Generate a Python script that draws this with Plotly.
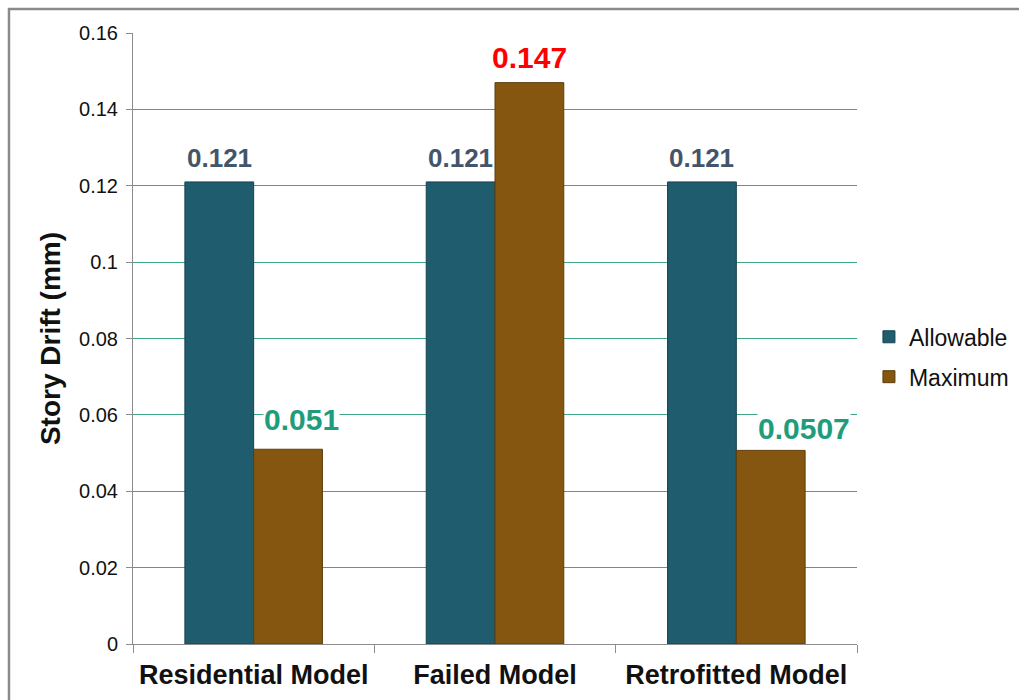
import plotly.graph_objects as go

# Story drift comparison data
categories = ["Residential Model", "Failed Model", "Retrofitted Model"]
allowable = [0.121, 0.121, 0.121]
maximum = [0.051, 0.147, 0.0507]
allowable_labels = ["0.121", "0.121", "0.121"]
maximum_labels = ["0.051", "0.147", "0.0507"]
allowable_label_color = "#44546A"
maximum_label_colors = ["#1E9C7C", "#FF0000", "#1E9C7C"]
y_ticks = [0, 0.02, 0.04, 0.06, 0.08, 0.1, 0.12, 0.14, 0.16]
y_tick_text = ["0", "0.02", "0.04", "0.06", "0.08", "0.1", "0.12", "0.14", "0.16"]

TEAL = "#1F5C6E"
BROWN = "#84560F"
FONT = "Liberation Sans, Arial"
BARGAP = 0.43

# Label placement tweaks (pixel nudges) for the "Maximum" value labels
max_label_style = [
    dict(xshift=13, yshift=12),
    dict(xshift=0, yshift=8),
    dict(xshift=33, yshift=4),
]

fig = go.Figure()

fig.add_trace(go.Bar(
    name="Allowable",
    x=categories,
    y=allowable,
    marker=dict(color=TEAL, line=dict(color="#16434F", width=1)),
    legendgroup="a",
))

fig.add_trace(go.Bar(
    name="Maximum",
    x=categories,
    y=maximum,
    marker=dict(color=BROWN, line=dict(color="#5E3D0A", width=1)),
    legendgroup="b",
))

# Value labels above each bar, positioned at the bar centres of each group
bar_w = (1 - BARGAP) / 2
annotations = []
for i in range(len(categories)):
    annotations.append(dict(
        x=i - bar_w / 2, y=allowable[i], xref="x", yref="y",
        text=allowable_labels[i], showarrow=False,
        yanchor="bottom", yshift=7,
        font=dict(family=FONT, size=26, color=allowable_label_color, weight="bold"),
    ))
    annotations.append(dict(
        x=i + bar_w / 2, y=maximum[i], xref="x", yref="y",
        text=maximum_labels[i], showarrow=False,
        yanchor="bottom", bgcolor="white", borderpad=0,
        font=dict(family=FONT, size=30, color=maximum_label_colors[i], weight="bold"),
        **max_label_style[i],
    ))

fig.update_layout(
    width=1019,
    height=700,
    margin=dict(l=133, r=162, t=33, b=56, autoexpand=False),
    paper_bgcolor="white",
    plot_bgcolor="white",
    font=dict(family=FONT, color="#111111"),
    barmode="group",
    bargap=BARGAP,
    bargroupgap=0,
    annotations=annotations,
    legend=dict(
        x=1.0165, y=0.47, xanchor="left", yanchor="middle",
        font=dict(size=23, color="#111111"),
        traceorder="grouped",
        tracegroupgap=7,
        itemwidth=30,
    ),
    xaxis=dict(
        showline=True, linecolor="#8C8C8C", linewidth=1,
        ticks="outside", tickson="boundaries", ticklen=8, tickcolor="#8C8C8C",
        tickfont=dict(size=27, color="#111111", family=FONT, weight="bold"),
        ticklabelstandoff=7,
        showgrid=False,
    ),
    yaxis=dict(
        range=[0, 0.16],
        tickvals=y_ticks,
        ticktext=y_tick_text,
        showline=True, linecolor="#8C8C8C", linewidth=1,
        ticks="outside", ticklen=6, tickcolor="#8C8C8C",
        tickfont=dict(size=20, color="#111111"),
        ticklabelstandoff=4,
        showgrid=True, gridcolor="#3FA68A", gridwidth=1,
        zeroline=False,
        title=dict(
            text="<b>Story Drift (mm)</b>",
            font=dict(size=28, color="#111111"),
            standoff=10,
        ),
    ),
    shapes=[
        dict(
            type="rect", xref="paper", yref="paper",
            x0=-0.1713, x1=1.3, y0=-0.2, y1=1.0393,
            line=dict(color="#8A8A8A", width=2.5),
            fillcolor="rgba(0,0,0,0)",
            layer="below",
        )
    ],
)

fig.write_html("out.html")
